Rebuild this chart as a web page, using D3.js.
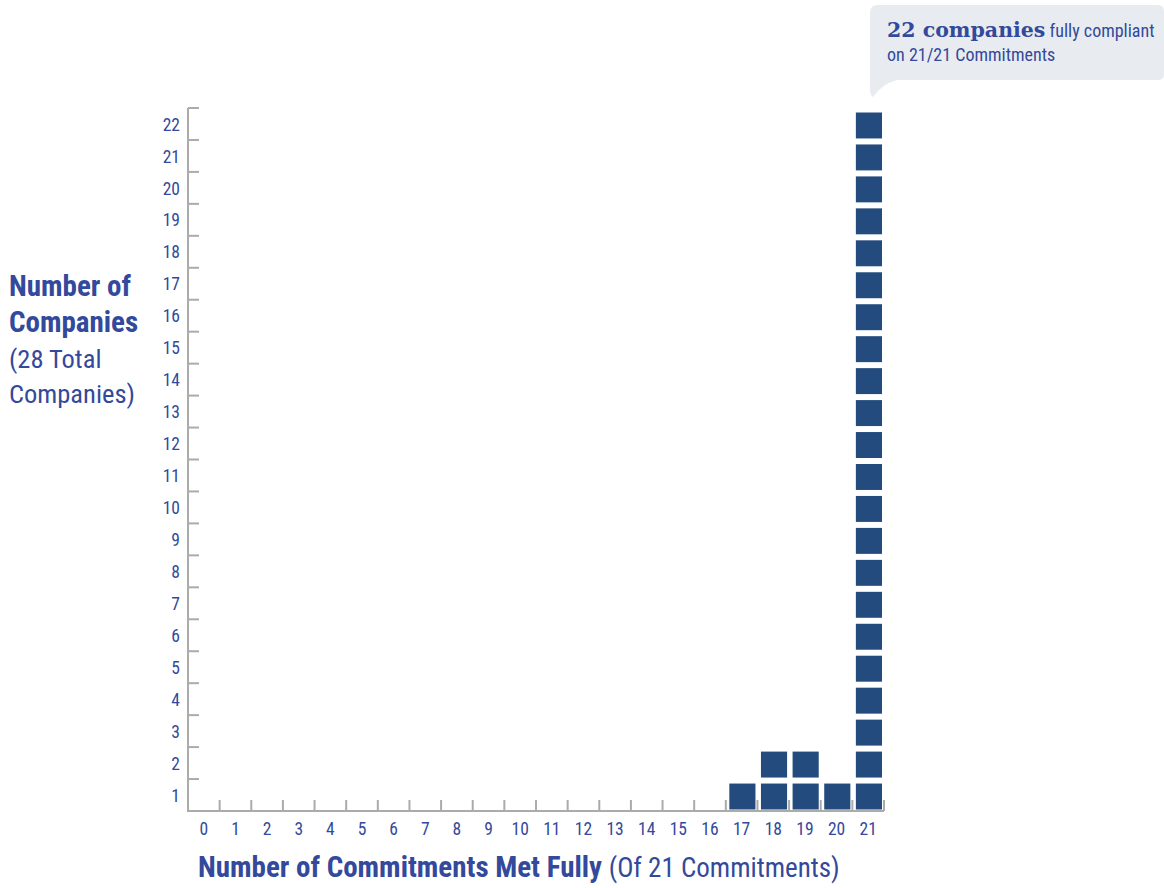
<!DOCTYPE html>
<html>
<head>
<meta charset="utf-8">
<script src="https://cdn.jsdelivr.net/npm/d3@7"></script>
<style>
  body { margin: 0; background: #fff; }
  svg text { font-family: "Liberation Sans Narrow", "Roboto Condensed", "DejaVu Sans Condensed", sans-serif; }
</style>
</head>
<body>
<svg id="chart" width="1164" height="888"></svg>
<script>
// commitments met fully (x categories)
const commitments = ['0', '1', '2', '3', '4', '5', '6', '7', '8', '9', '10',
  '11', '12', '13', '14', '15', '16', '17', '18', '19', '20', '21']
// number of companies for each commitment count
const companyCounts = [0, 0, 0, 0, 0, 0, 0, 0, 0, 0, 0,
  0, 0, 0, 0, 0, 0, 1, 2, 2, 1, 22]
// y tick labels (one row per company)
const rowLabels = ['1', '2', '3', '4', '5', '6', '7', '8', '9', '10', '11',
  '12', '13', '14', '15', '16', '17', '18', '19', '20', '21', '22']

const textBlue = '#33499b'
const boxBlue = '#234b7d'
const axisGrey = '#ababab'

const svg = d3.select('#chart')

const xScale = d3.scaleBand().domain(commitments).range([188, 884])
const yScale = d3.scaleBand().domain(rowLabels).range([811, 108])

const g = svg.append('g')

// y axis line + ticks on row boundaries
g.append('line')
  .attr('x1', 188).attr('x2', 188)
  .attr('y1', yScale.range()[1]).attr('y2', yScale.range()[0] + 1)
  .attr('stroke', axisGrey).attr('stroke-width', 2)

g.selectAll('.ytick')
  .data(rowLabels.slice(1).concat(['top']))
  .enter()
  .append('line')
  .attr('class', 'ytick')
  .attr('x1', 188).attr('x2', 199)
  .attr('y1', d => d === 'top' ? yScale.range()[1] : yScale(d) + yScale.bandwidth())
  .attr('y2', d => d === 'top' ? yScale.range()[1] : yScale(d) + yScale.bandwidth())
  .attr('stroke', axisGrey).attr('stroke-width', 2)

g.selectAll('.ylabel')
  .data(rowLabels)
  .enter()
  .append('text')
  .attr('class', 'ylabel')
  .attr('x', 180)
  .attr('y', d => yScale(d) + yScale.bandwidth() / 2 + 2)
  .attr('text-anchor', 'end')
  .attr('dominant-baseline', 'middle')
  .attr('font-size', 17.5)
  .attr('fill', textBlue)
  .text(d => d)

// x axis line + ticks on column boundaries
g.append('line')
  .attr('x1', 187).attr('x2', xScale.range()[1])
  .attr('y1', 811).attr('y2', 811)
  .attr('stroke', axisGrey).attr('stroke-width', 2)

g.selectAll('.xtick')
  .data(commitments.slice(1).concat(['end']))
  .enter()
  .append('line')
  .attr('class', 'xtick')
  .attr('x1', d => d === 'end' ? xScale.range()[1] : xScale(d))
  .attr('x2', d => d === 'end' ? xScale.range()[1] : xScale(d))
  .attr('y1', 811).attr('y2', 800)
  .attr('stroke', axisGrey).attr('stroke-width', 2)

g.selectAll('.xlabel')
  .data(commitments)
  .enter()
  .append('text')
  .attr('class', 'xlabel')
  .attr('x', d => xScale(d) + xScale.bandwidth() / 2)
  .attr('y', 835)
  .attr('text-anchor', 'middle')
  .attr('font-size', 17.5)
  .attr('fill', textBlue)
  .text(d => d)

// one square per company
const cells = []
commitments.forEach((c, i) => {
  for (let k = 0; k < companyCounts[i]; k++) cells.push({ col: c, row: rowLabels[k] })
})

g.selectAll('.cell')
  .data(cells)
  .enter()
  .append('rect')
  .attr('class', 'cell')
  .attr('x', d => xScale(d.col) + 3.5)
  .attr('y', d => yScale(d.row) + 4.5)
  .attr('width', xScale.bandwidth() - 5.5)
  .attr('height', yScale.bandwidth() - 6)
  .attr('fill', boxBlue)

// y axis title
const yTitle = svg.append('text').attr('fill', textBlue)
yTitle.append('tspan').attr('x', 9).attr('y', 296).attr('font-weight', 'bold').attr('font-size', 29).text('Number of')
yTitle.append('tspan').attr('x', 9).attr('y', 332).attr('font-weight', 'bold').attr('font-size', 29).text('Companies')
yTitle.append('tspan').attr('x', 9).attr('y', 368).attr('font-size', 26.5).text('(28 Total')
yTitle.append('tspan').attr('x', 9).attr('y', 403).attr('font-size', 26.5).text('Companies)')

// x axis title
const xTitle = svg.append('text').attr('fill', textBlue)
  .attr('x', 198).attr('y', 877)
xTitle.append('tspan').attr('font-weight', 'bold').attr('font-size', 29).text('Number of Commitments Met Fully ')
xTitle.append('tspan').attr('font-size', 27).text('(Of 21 Commitments)')

// callout bubble
svg.append('path')
  .attr('d', 'M878,5 H1158 Q1164,5 1164,11 V74 Q1164,80 1158,80 H897 Q882,84 873,97 Q870,95 870,90 V13 Q870,5 878,5 Z')
  .attr('fill', '#e8ecf1')

const call = svg.append('text').attr('fill', textBlue)
call.append('tspan').attr('x', 887).attr('y', 37)
  .attr('font-family', '"DejaVu Serif", serif').attr('font-weight', 'bold').attr('font-size', 20.5)
  .text('22 companies')
call.append('tspan').attr('font-size', 18).text(' fully compliant')
call.append('tspan').attr('x', 887).attr('y', 61).attr('font-size', 18).text('on 21/21 Commitments')
</script>
</body>
</html>
